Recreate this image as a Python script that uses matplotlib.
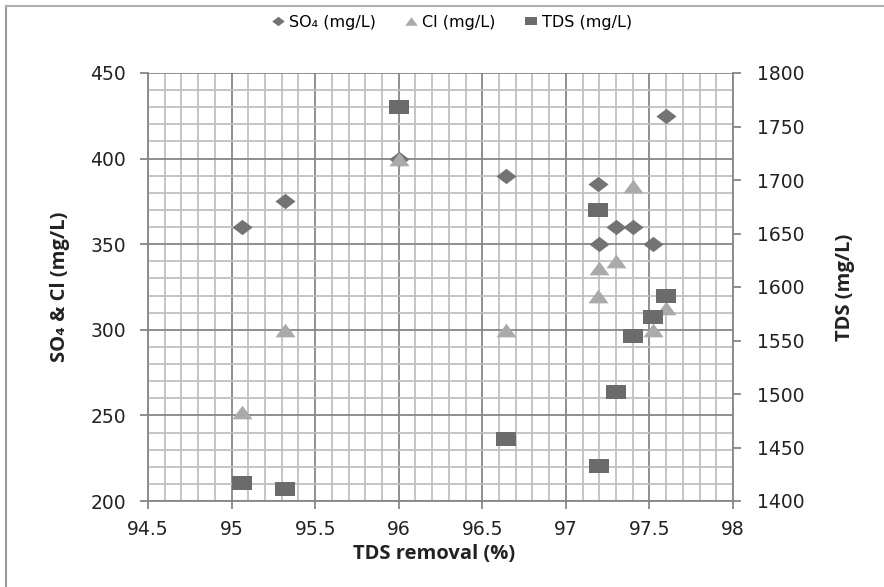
import matplotlib
matplotlib.use("Agg")
import matplotlib.pyplot as plt
from matplotlib.lines import Line2D
from matplotlib.ticker import MultipleLocator
import numpy as np

# ---- data ----
tds_removal = [95.06, 95.32, 96.0, 96.64, 97.19, 97.2, 97.3, 97.4, 97.52, 97.6]
so4_vals = [360, 375, 400, 390, 385, 350, 360, 360, 350, 425]
cl_vals = [252, 300, 400, 300, 320, 336, 340, 384, 300, 313]
tds_vals = [1417, 1411, 1768, 1458, 1672, 1433, 1502, 1554, 1572, 1592]
x_tick_labels = ["94.5", "95", "95.5", "96", "96.5", "97", "97.5", "98"]
series_labels = ["SO\u2084 (mg/L)", "Cl (mg/L)", "TDS (mg/L)"]

# ---- styles ----
c_so4 = "#737373"
c_cl = "#aaaaaa"
c_tds = "#6b6b6b"
major_grid = "#878787"
minor_grid = "#c0c0c0"
axis_col = "#878787"

# horizontally stretched marker shapes (reference image is stretched)
sq = [(-1, -0.72), (1, -0.72), (1, 0.72), (-1, 0.72), (-1, -0.72)]
dia = [(0, 0.76), (1, 0), (0, -0.76), (-1, 0), (0, 0.76)]
tri = [(-1, -0.68), (1, -0.68), (0, 0.68), (-1, -0.68)]

W, H = 884, 587
fig = plt.figure(figsize=(W / 100, H / 100), dpi=100)
ax = fig.add_axes([148 / W, 1 - 501 / H, (733 - 148) / W, (501 - 73) / H])
ax2 = ax.twinx()

ax.set_xlim(94.5, 98)
ax.set_ylim(200, 450)
ax2.set_ylim(1400, 1800)

ax.xaxis.set_major_locator(MultipleLocator(0.5))
ax.xaxis.set_minor_locator(MultipleLocator(0.1))
ax.yaxis.set_major_locator(MultipleLocator(50))
ax.yaxis.set_minor_locator(MultipleLocator(10))
ax2.yaxis.set_major_locator(MultipleLocator(50))

ax.grid(which="minor", color=minor_grid, linewidth=1.3, zorder=0)
ax.grid(which="major", color=major_grid, linewidth=1.3, zorder=0)
ax.set_axisbelow(True)

ms = 14.5
ax.plot(tds_removal, so4_vals, linestyle="none", marker=dia, markersize=ms,
        color=c_so4, markeredgewidth=0, zorder=3)
ax.plot(tds_removal, cl_vals, linestyle="none", marker=tri, markersize=ms,
        color=c_cl, markeredgewidth=0, zorder=4)
ax2.plot(tds_removal, tds_vals, linestyle="none", marker=sq, markersize=ms,
         color=c_tds, markeredgewidth=0, zorder=5)

for a in (ax, ax2):
    for s in a.spines.values():
        s.set_color(axis_col)
        s.set_linewidth(1.3)
    a.spines["top"].set_visible(False)
ax.spines["right"].set_visible(False)
ax2.spines["left"].set_visible(False)
ax2.spines["bottom"].set_visible(False)

tsize = 13.5
ax.tick_params(axis="both", which="major", direction="out", length=6, width=1.3,
               color=axis_col, labelsize=tsize, labelcolor="#222222")
ax.tick_params(axis="y", which="major", pad=10)
ax.tick_params(axis="x", which="major", pad=8)
ax.tick_params(axis="both", which="minor", length=0)
ax2.tick_params(axis="y", which="major", direction="out", length=6, width=1.3,
                color=axis_col, labelsize=tsize, labelcolor="#222222", pad=11)

ax.set_xticks(np.arange(94.5, 98.01, 0.5))
ax.set_xticklabels(x_tick_labels)
for lbl in ax.get_xticklabels() + ax.get_yticklabels() + ax2.get_yticklabels():
    lbl.set_family("DejaVu Sans")

lab_font = dict(family=["Open Sans", "DejaVu Sans"], weight="bold", size=14.5,
                color="#222222")
fig.text(434 / W, 1 - 554 / H, "TDS removal (%)", ha="center", va="center", **lab_font)
fig.text(60 / W, 1 - 287 / H, "SO\u2084 & Cl (mg/L)", ha="center", va="center",
         rotation=90, **lab_font)
fig.text(845 / W, 1 - 287 / H, "TDS (mg/L)", ha="center", va="center",
         rotation=90, **lab_font)

handles = [
    Line2D([], [], linestyle="none", marker=dia, markersize=9, color=c_so4, markeredgewidth=0),
    Line2D([], [], linestyle="none", marker=tri, markersize=9, color=c_cl, markeredgewidth=0),
    Line2D([], [], linestyle="none", marker=sq, markersize=8, color=c_tds, markeredgewidth=0),
]
fig.legend(handles, series_labels, loc="center", bbox_to_anchor=(452 / W, 1 - 22 / H),
           ncol=3, frameon=False, prop=dict(family="DejaVu Sans", size=11.5),
           handlelength=0.8, handletextpad=0.3, columnspacing=1.8)

# outer chart frame (left and top edges visible in reference)
fig.add_artist(Line2D([6 / W, 6 / W], [0, 1 - 6 / H], transform=fig.transFigure,
                      color="#9a9a9a", linewidth=1.5))
fig.add_artist(Line2D([6 / W, 1], [1 - 6 / H, 1 - 6 / H], transform=fig.transFigure,
                      color="#b0b0b0", linewidth=1.5))

fig.savefig("out.png", dpi=100, facecolor="white")
